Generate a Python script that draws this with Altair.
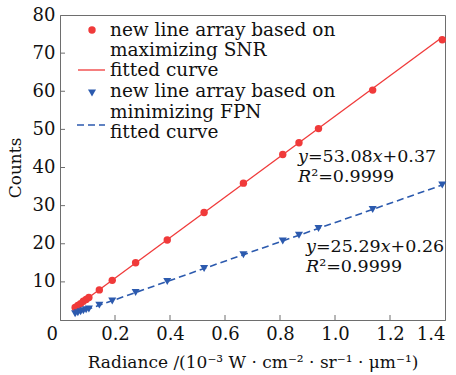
import altair as alt
import pandas as pd

# data
radiance = [0.055, 0.065, 0.075, 0.085, 0.095, 0.105, 0.143, 0.19, 0.275, 0.39,
            0.524, 0.667, 0.81, 0.869, 0.94, 1.137, 1.39]
counts_snr = [3.3, 3.8, 4.3, 4.9, 5.4, 5.9, 7.9, 10.4, 15.0, 21.0,
              28.2, 35.9, 43.4, 46.5, 50.2, 60.3, 73.5]
counts_fpn = [1.65, 1.9, 2.15, 2.4, 2.66, 2.9, 3.9, 5.0, 7.2, 10.1,
              13.5, 17.1, 20.7, 22.2, 24.0, 29.0, 35.4]
fit_x = [0.055, 1.39]
fit_snr = [3.29, 74.15]
fit_fpn = [1.65, 35.41]
x_ticks = [0, 0.2, 0.4, 0.6, 0.8, 1.0, 1.2, 1.4]
y_ticks = [10, 20, 30, 40, 50, 60, 70, 80]

RED = "#f03a3a"
BLUE = "#2c5aae"
FONT = "DejaVu Serif"
FRAME = "#6e6e6e"
TXT = "#111"

pts = pd.DataFrame({"x": radiance, "snr": counts_snr, "fpn": counts_fpn})
fits = pd.DataFrame({"x": fit_x, "snr": fit_snr, "fpn": fit_fpn})

xs = alt.Scale(domain=[0, 1.4], nice=False, zero=False)
ys = alt.Scale(domain=[0, 80], nice=False, zero=False)

xaxis = alt.Axis(values=x_ticks, labelExpr="datum.value === 0 ? '0' : format(datum.value, '.1f')",
                 title="Radiance /(10⁻³ W · cm⁻² · sr⁻¹ · μm⁻¹)", ticks=False,
                 labelFont=FONT, labelFontSize=18, labelColor=TXT, labelPadding=5,
                 titleFont=FONT, titleFontSize=17, titleFontWeight="normal", titleColor=TXT,
                 titlePadding=11, domainColor=FRAME, grid=False,
                 labelOffset={"condition": {"test": "datum.value === 0", "value": -14}, "value": 0})
yaxis = alt.Axis(values=y_ticks, title="Counts", ticks=False,
                 labelFont=FONT, labelFontSize=18, labelColor=TXT, labelPadding=5,
                 titleFont=FONT, titleFontSize=17, titleFontWeight="normal", titleColor=TXT,
                 titlePadding=8, domainColor=FRAME, grid=False)

base_line_red = alt.Chart(fits).mark_line(color=RED, strokeWidth=1.3).encode(
    x=alt.X("x:Q", scale=xs, axis=xaxis), y=alt.Y("snr:Q", scale=ys, axis=yaxis))
line_blue = alt.Chart(fits).mark_line(color=BLUE, strokeWidth=1.6, strokeDash=[7, 4]).encode(
    x=alt.X("x:Q", scale=xs), y=alt.Y("fpn:Q", scale=ys))
pts_red = alt.Chart(pts).mark_circle(color=RED, size=55, opacity=1).encode(
    x=alt.X("x:Q", scale=xs), y=alt.Y("snr:Q", scale=ys))
pts_blue = alt.Chart(pts).mark_point(shape="triangle-down", filled=True, color=BLUE, size=65, opacity=1).encode(
    x=alt.X("x:Q", scale=xs), y=alt.Y("fpn:Q", scale=ys))

# inward ticks
xt = pd.DataFrame({"x": x_ticks[1:-1]})
yt = pd.DataFrame({"y": y_ticks[:-1]})
xtick = alt.Chart(xt).mark_rule(color=FRAME, strokeWidth=1).encode(
    x=alt.X("x:Q", scale=xs), y=alt.value(305), y2=alt.value(300))
ytick = alt.Chart(yt).mark_rule(color=FRAME, strokeWidth=1).encode(
    y=alt.Y("y:Q", scale=ys), x=alt.value(0), x2=alt.value(5))

# legend (drawn manually)
leg_text = pd.DataFrame({
    "t": ["new line array based on", "maximizing SNR", "fitted curve",
          "new line array based on", "minimizing FPN", "fitted curve"],
    "py": [15, 35, 55, 76, 97, 117],
})
legend_text = alt.Chart(leg_text).mark_text(align="left", baseline="middle", font=FONT,
                                            fontSize=18.5, color=TXT).encode(
    x=alt.value(50), y=alt.Y("py:Q", scale=None), text="t:N")
leg_dot = alt.Chart(pd.DataFrame({"a": [1]})).mark_circle(color=RED, size=55, opacity=1).encode(
    x=alt.value(32), y=alt.value(15))
leg_tri = alt.Chart(pd.DataFrame({"a": [1]})).mark_point(shape="triangle-down", filled=True,
                                                         color=BLUE, size=65, opacity=1).encode(
    x=alt.value(32), y=alt.value(78))
leg_l1 = alt.Chart(pd.DataFrame({"a": [1]})).mark_rule(color=RED, strokeWidth=1.3).encode(
    x=alt.value(18), x2=alt.value(45), y=alt.value(55))
leg_l2 = alt.Chart(pd.DataFrame({"a": [1]})).mark_rule(color=BLUE, strokeWidth=1.6, strokeDash=[7, 4]).encode(
    x=alt.value(17), x2=alt.value(45), y=alt.value(110))

# annotations
ann = pd.DataFrame({
    "t": ["𝑦=53.08𝑥+0.37", "𝑅²=0.9999", "𝑦=25.29𝑥+0.26", "𝑅²=0.9999"],
    "px": [238, 238, 246, 246],
    "py": [142, 162, 232, 252],
})
annot = alt.Chart(ann).mark_text(align="left", baseline="middle", font=FONT, fontSize=17.5,
                                 color=TXT).encode(
    x=alt.X("px:Q", scale=None), y=alt.Y("py:Q", scale=None), text="t:N")

chart = alt.layer(base_line_red, line_blue, pts_red, pts_blue, xtick, ytick,
                  legend_text, leg_dot, leg_tri, leg_l1, leg_l2, annot).properties(
    width=385, height=305,
    autosize=alt.AutoSizeParams(type="none"),
    padding={"left": 60, "top": 15, "right": 11, "bottom": 55},
    background="white",
).configure_view(stroke=FRAME, strokeWidth=1)

chart.save("out.html", embed_options={"renderer": "svg", "actions": False})
